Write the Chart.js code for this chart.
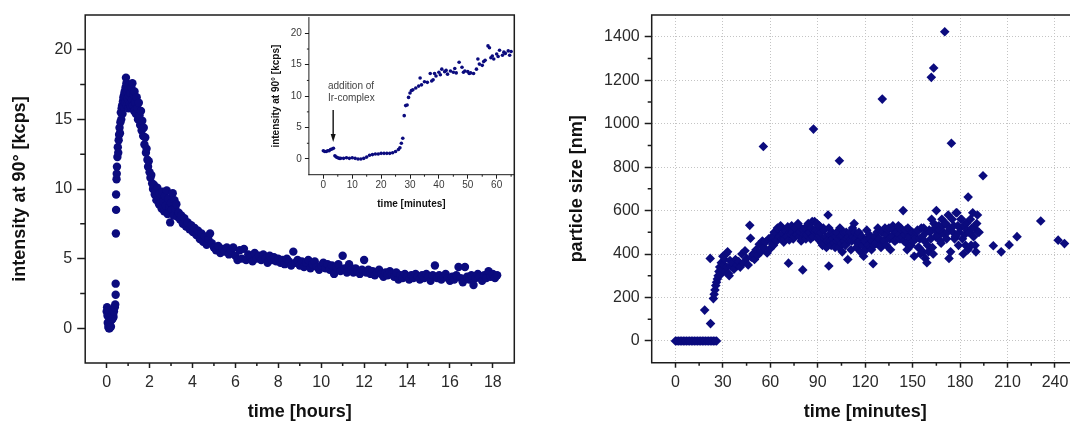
<!DOCTYPE html>
<html>
<head>
<meta charset="utf-8">
<script src="https://cdn.jsdelivr.net/npm/chart.js@4.4.1/dist/chart.umd.min.js"></script>
<style>
  html, body { margin: 0; padding: 0; background: #fff; }
  body { width: 1070px; height: 423px; overflow: hidden; position: relative; }
  canvas { position: absolute; top: 0; }
  #kinetics { left: 0; }
  #onset { left: 250px; }
  #sizes { left: 540px; }
</style>
</head>
<body>
<canvas id="kinetics" width="535" height="423"></canvas>
<canvas id="onset" width="268" height="215"></canvas>
<canvas id="sizes" width="560" height="423"></canvas>
<script>
/* scattered light at 90°, long run (hours) */
const hourTicks = [0, 2, 4, 6, 8, 10, 12, 14, 16, 18];
const hourMinor = [1, 3, 5, 7, 9, 11, 13, 15, 17];
const kcpsTicks = [0, 5, 10, 15, 20];
const kcpsMinor = [2.5, 7.5, 12.5, 17.5];

const hourlyIntensity = [
  [0.00,1.2],[0.02,1.5],[0.04,0.9],[0.05,0.4],[0.06,1.3],[0.08,0.1],[0.09,0.3],[0.10,0.0],[0.12,0.5],[0.14,0.0],
  [0.16,0.2],[0.18,0.8],[0.20,0.1],[0.22,0.9],[0.24,0.6],[0.26,1.1],[0.28,0.7],[0.30,1.0],[0.32,0.8],[0.34,1.2],
  [0.38,1.5],[0.40,1.7],[0.42,2.4],[0.42,3.2],[0.43,6.8],[0.44,8.5],[0.44,9.6],[0.46,10.7],[0.47,11.1],[0.48,11.6],
  [0.50,12.3],[0.52,13.0],[0.54,12.6],[0.56,13.5],[0.58,13.9],[0.60,14.4],[0.62,14.0],[0.64,14.8],[0.66,15.5],[0.68,15.0],
  [0.70,15.8],[0.72,16.0],[0.74,15.4],[0.76,16.3],[0.78,16.6],[0.80,15.9],[0.82,16.8],[0.84,17.0],[0.86,16.2],[0.88,17.3],
  [0.90,18.0],[0.92,17.6],[0.94,16.0],[0.96,17.0],[0.98,16.5],[1.00,17.2],[1.02,15.8],[1.04,16.7],[1.06,17.5],[1.08,16.1],
  [1.10,16.9],[1.12,15.9],[1.15,17.3],[1.18,16.4],[1.20,17.6],[1.22,16.0],[1.25,16.8],[1.28,15.6],[1.30,17.0],[1.33,16.2],
  [1.36,15.4],[1.40,16.6],[1.43,15.8],[1.46,15.0],[1.50,16.2],[1.53,15.3],[1.56,14.6],[1.60,15.6],[1.63,14.2],[1.66,14.9],
  [1.70,13.8],[1.73,14.4],[1.76,13.2],[1.80,13.7],[1.83,12.6],[1.86,12.9],[1.90,12.1],[1.93,11.6],[1.96,12.0],[2.00,11.2],
  [2.04,10.8],[2.08,11.0],[2.12,10.4],[2.16,10.0],[2.20,10.3],[2.24,9.6],[2.28,9.9],[2.32,9.2],[2.36,10.1],[2.40,9.4],
  [2.44,8.9],[2.48,9.7],[2.52,9.0],[2.56,8.6],[2.60,9.8],[2.64,9.1],[2.68,8.4],[2.72,9.5],[2.76,8.8],[2.80,9.9],
  [2.84,8.2],[2.88,9.3],[2.92,8.7],[2.96,7.6],[3.00,9.0],[3.04,8.5],[3.08,9.7],[3.12,8.1],[3.16,9.2],[3.20,8.6],
  [3.25,8.9],[3.30,8.0],[3.36,8.3],[3.42,7.8],[3.48,8.1],[3.55,7.5],[3.62,7.9],[3.70,7.3],[3.78,7.6],[3.86,7.1],
  [3.94,7.4],[4.02,6.9],[4.10,7.2],[4.18,6.7],[4.26,7.0],[4.34,6.4],[4.42,6.8],[4.50,6.2],[4.58,6.6],[4.66,6.0],
  [4.74,6.4],[4.82,6.8],[4.90,6.1],[5.00,5.8],[5.10,5.6],[5.20,5.9],[5.30,5.4],[5.40,5.7],[5.50,5.5],[5.60,5.8],
  [5.70,5.3],[5.80,5.6],[5.90,5.8],[6.00,5.2],[6.10,4.9],[6.20,5.6],[6.30,5.0],[6.40,5.7],[6.50,4.9],[6.60,5.3],
  [6.70,5.1],[6.80,4.8],[6.90,5.4],[7.00,5.0],[7.10,5.2],[7.20,4.9],[7.30,5.3],[7.40,5.0],[7.50,4.7],[7.60,5.2],
  [7.70,4.9],[7.80,5.1],[7.90,4.8],[8.00,5.0],[8.10,4.7],[8.20,4.9],[8.30,4.6],[8.40,5.0],[8.50,4.8],[8.60,4.5],
  [8.70,5.5],[8.80,4.7],[8.90,4.9],[9.00,4.5],[9.10,4.8],[9.20,4.4],[9.30,4.7],[9.40,4.9],[9.50,4.3],[9.60,4.6],
  [9.70,4.8],[9.80,4.4],[9.90,4.2],[10.0,4.5],[10.1,4.7],[10.2,4.3],[10.3,4.6],[10.4,4.2],[10.5,4.5],[10.6,3.9],
  [10.7,4.4],[10.8,4.6],[10.9,4.1],[11.0,5.2],[11.1,4.3],[11.2,4.0],[11.3,4.6],[11.4,4.2],[11.5,4.0],[11.6,4.3],
  [11.7,4.1],[11.8,3.9],[11.9,4.2],[12.0,4.9],[12.1,4.0],[12.2,4.2],[12.3,3.9],[12.4,4.1],[12.5,3.8],[12.6,4.0],
  [12.7,4.2],[12.8,3.9],[12.9,3.7],[13.0,4.0],[13.1,3.8],[13.2,4.1],[13.3,3.9],[13.4,3.7],[13.5,4.0],[13.6,3.5],
  [13.7,3.8],[13.8,3.6],[13.9,3.9],[14.0,3.7],[14.1,3.5],[14.2,3.8],[14.3,3.6],[14.4,3.9],[14.5,3.7],[14.6,3.5],
  [14.7,3.8],[14.8,3.6],[14.9,3.9],[15.0,3.7],[15.1,3.4],[15.2,3.8],[15.3,4.5],[15.4,3.6],[15.5,3.8],[15.6,3.5],
  [15.7,3.7],[15.8,3.9],[15.9,3.6],[16.0,3.4],[16.1,3.7],[16.2,3.5],[16.3,3.8],[16.4,4.4],[16.5,3.6],[16.6,3.3],
  [16.7,4.4],[16.8,3.7],[16.9,3.5],[17.0,3.8],[17.1,3.1],[17.2,3.6],[17.3,3.9],[17.4,3.7],[17.5,3.4],[17.6,3.8],
  [17.7,3.6],[17.8,4.1],[17.9,3.7],[18.0,3.9],[18.1,3.6],[18.2,3.8]
];

/* first hour in minutes (inset) */
const minuteTicks = [0, 10, 20, 30, 40, 50, 60];
const minuteMinor = [5, 15, 25, 35, 45, 55, 65];
const onsetIntensity = [
  [0,1.3],[0.5,1.2],[1,1.2],[1.5,1.3],[2,1.3],[2.5,1.5],[3,1.6],[3.5,1.7],[4,0.5],[4.5,0.3],
  [5,0.2],[5.5,0.1],[6,0.1],[7,0.1],[8,0.2],[9,0.1],[10,0.2],[11,0.1],[12,0.0],[13,0.0],
  [14,0.1],[15,0.3],[16,0.6],[17,0.7],[18,0.8],[19,0.8],[20,0.9],[21,0.9],[22,0.9],[23,0.9],
  [24,1.0],[25,1.2],[26,1.5],[26.5,1.8],[27,2.5],[27.5,3.3],[28,6.9],[28.5,8.5],[29,8.6],[29.5,9.8],
  [30,10.5],[30.5,10.9],[31,11.0],[32,11.3],[33,11.6],[33.5,12.9],[34,11.8],[35,12.3],[36,12.2],[37,13.6],
  [37.5,12.4],[38,12.6],[38.5,13.6],[39,13.2],[40,13.8],[40.5,13.4],[41,14.3],[42,13.9],[42.5,14.1],[43,13.5],
  [44,14.0],[45,13.8],[45.5,14.4],[46,13.7],[47,15.4],[48,14.6],[48.5,13.8],[49,14.0],[50,13.9],[50.5,13.6],
  [51,13.7],[52,13.6],[53,14.3],[53.5,15.9],[54,15.1],[55,14.9],[55.5,15.5],[56,15.7],[57,18.0],[57.5,17.7],
  [58,16.1],[58.5,16.4],[59,15.9],[60,16.7],[60.5,16.3],[61,17.3],[62,16.5],[62.5,17.0],[63,16.8],[64,17.2],
  [64.5,16.5],[65,17.1]
];
const noteMinute = 1.6;
const noteLines = [[11.6, 'addition of'], [9.7, 'Ir-complex']];
const arrowMinute = 3.4, arrowFrom = 7.8, arrowTo = 2.7;

/* particle size (nm) against time (minutes) */
const sizeTimeTicks = [0, 30, 60, 90, 120, 150, 180, 210, 240];
const sizeTimeMinor = [15, 45, 75, 105, 135, 165, 195, 225, 255];
const nmTicks = [0, 200, 400, 600, 800, 1000, 1200, 1400];
const nmMinor = [100, 300, 500, 700, 900, 1100, 1300];

const particleSize = [
  [0,0],[1,0],[2,0],[3,0],[4,0],[5,0],[6,0],[7,0],[8,0],[9,0],[10,0],[11,0],[12,0],[13,0],
  [14,0],[15,0],[16,0],[17,0],[18,0],[19,0],[20,0],[21,0],[22,0],[23,0],[24,0],[25,0],[26,0],
  [18.5,142],[22,380],[22.2,80],
  [24,195],[24.5,215],[25,235],[25.5,255],[26,270],[26.5,285],[27,300],[27.5,320],[28,340],[28.5,305],
  [29,360],[29.5,330],[30,390],[30.5,350],[31,375],[31.5,320],[32,400],[32.5,340],[33,410],[33.5,310],
  [34,300],[34.5,370],[35,345],[36,360],[37,330],[38,375],[39,350],[40,365],[41,340],[42,400],
  [43,360],[44,415],[45,380],[46,350],[47,532],[47.5,473],[48,385],[49,400],[50,375],[51,420],
  [52,395],[53,445],[54,410],[55,460],[55.6,895],[56,430],[57,455],[58,405],[59,470],
  [60,425],[60.5,470],[61,480],[61.5,445],[62,440],[62.5,500],[63,500],[63.5,465],[64,460],[64.5,520],
  [65,515],[65.5,480],[66,480],[66.5,530],[67,520],[67.5,470],[68,495],[68.5,455],[69,470],[69.5,510],
  [70,505],[70.5,480],[71,525],[71.5,358],[72,465],[72.5,500],[73,490],[73.5,530],[74,500],[74.5,470],
  [75,480],[75.5,520],[76,520],[76.5,490],[77,490],[77.5,540],[78,530],[78.5,480],[79,500],[79.5,460],
  [80,470],[80.5,327],[81,510],[81.5,490],[82,520],[82.5,470],[83,490],[83.5,530],[84,540],[84.5,500],
  [85,500],[85.5,470],[86,520],[86.5,550],[87,480],[87.3,975],[87.5,510],[88,550],[88.5,500],[89,510],
  [89.5,540],[90,470],[90.5,500],[91,530],[91.5,480],[92,500],[92.5,450],[93,440],[93.5,520],[94,510],
  [94.5,470],[95,480],[95.5,430],[96,460],[96.5,580],[97,520],[97,345],[97.5,490],[98,460],[98.5,440],
  [99,500],[99.5,470],
  [100,490],[100.5,450],[101,430],[101.5,480],[102,500],[102.5,460],[103,470],[103.5,430],[103.7,829],[104,520],
  [104.5,480],[105,450],[105.5,410],[106,480],[106.5,500],[107,460],[107.5,440],[108,500],[108.5,470],[109,375],
  [109.5,480],[110,460],[110.5,500],[111,420],[111.5,460],[112,520],[112.5,480],[113,540],[113.5,500],[114,470],
  [114.5,430],[115,450],[115.5,490],[116,500],[116.5,460],[117,410],[117.5,480],[118,480],[118.5,440],[119,390],
  [119.5,460],[120,460],[120.5,420],[121,510],[121.5,470],[122,440],[122.5,490],[123,470],[123.5,430],[124,420],
  [124.5,460],[125,355],[125.5,440],[126,480],[126.5,450],[127,450],[127.5,500],[128,520],[128.5,470],[129,470],
  [129.5,440],[130,430],[130.5,500],[130.8,1113],[131,500],[131.5,460],[132,460],[132.5,520],[133,490],[133.5,440],
  [134,490],[134.5,510],[135,520],[135.5,470],[136,420],[136.5,480],[137,480],[137.5,530],[138,510],[138.5,460],
  [139,460],[139.5,500],[140,500],[140.5,470],[141,530],[141.5,490],[142,470],[142.5,520],[143,510],[143.5,480],
  [144,600],[144.5,460],[145,490],[145.5,510],[146,450],[146.5,420],[147,520],[147.5,480],[148,480],[148.5,440],
  [149,440],[149.5,500],[150,500],[150.5,460],[151,390],[151.5,480],[152,470],[152.5,500],[153,510],[153.5,430],
  [154,430],[154.5,470],[155,400],[155.5,520],[156,480],[156.5,410],[157,520],[157.5,460],[158,380],[158.5,500],
  [159,360],[159.5,440],
  [160,410],[160.5,510],[161,500],[161.5,470],[161.8,1213],[162,560],[162.5,430],[163,400],[163.3,1256],[163.5,540],
  [164,520],[164.5,480],[165,600],[165.5,500],[166,480],[166.5,530],[167,510],[167.5,460],[168,450],[168.5,560],
  [169,530],[169.5,500],[170,490],[170.3,1423],[170.5,540],[171,540],[171.5,470],[172,500],[172.5,580],[173,380],
  [173.5,520],[174,410],[174.5,910],[175,560],[175.5,500],[176,530],[176.5,470],[177,480],[177.5,590],[178,590],
  [178.5,530],[179,440],[179.5,500],[180,520],[180.5,560],[181,560],[181.5,470],[182,400],[182.5,530],[183,490],
  [183.5,440],[184,540],[184.5,510],[185,420],[185.1,662],[185.5,500],[186,500],[186.5,560],[187,440],[187.5,520],
  [188,590],[188.5,480],[189,520],[189.5,440],[190,410],[190.5,540],[191,580],[191.5,500],[192,500],
  [194.5,760],[201,438],[206,410],[211,442],[216,480],[231,552],[242,464],[246,448]
];

const NAVY = '#0b0b7e';
const INK = '#1c1c1c';
const FONT = '"Liberation Sans", Arial, sans-serif';

// short minor ticks and the box lines round the plot area
const axisFrame = {
  id: 'axisFrame',
  afterDraw(chart, args, o) {
    const {ctx, chartArea: a} = chart;
    const sx = chart.scales.x, sy = chart.scales.y;
    ctx.save();
    ctx.strokeStyle = INK;
    ctx.lineWidth = o.lineWidth;
    ctx.beginPath();
    o.minorX.forEach(v => {
      const p = sx.getPixelForValue(v);
      if (p < a.left || p > a.right) return;
      ctx.moveTo(p, a.bottom);
      ctx.lineTo(p, a.bottom + o.minorLenX);
    });
    o.minorY.forEach(v => {
      const p = sy.getPixelForValue(v);
      ctx.moveTo(a.left, p);
      ctx.lineTo(a.left - o.minorLenY, p);
    });
    ctx.stroke();
    ctx.lineCap = 'square';
    ctx.beginPath();
    if (o.sides.includes('l')) { ctx.moveTo(a.left, a.top); ctx.lineTo(a.left, a.bottom); }
    if (o.sides.includes('b')) { ctx.moveTo(a.left, a.bottom); ctx.lineTo(a.right, a.bottom); }
    if (o.sides.includes('t')) { ctx.moveTo(a.left, a.top); ctx.lineTo(a.right, a.top); }
    if (o.sides.includes('r')) { ctx.moveTo(a.right, a.top); ctx.lineTo(a.right, a.bottom); }
    ctx.stroke();
    ctx.restore();
  }
};

// label and arrow marking when the complex went in
const additionNote = {
  id: 'additionNote',
  afterDraw(chart) {
    const {ctx, scales: {x, y}} = chart;
    ctx.save();
    ctx.font = '10px ' + FONT;
    ctx.fillStyle = '#444';
    ctx.textBaseline = 'middle';
    noteLines.forEach(([v, txt]) => ctx.fillText(txt, x.getPixelForValue(noteMinute), y.getPixelForValue(v)));
    const ax = x.getPixelForValue(arrowMinute);
    const y1 = y.getPixelForValue(arrowFrom), y2 = y.getPixelForValue(arrowTo);
    ctx.strokeStyle = '#111';
    ctx.lineWidth = 1.4;
    ctx.beginPath(); ctx.moveTo(ax, y1); ctx.lineTo(ax, y2 - 6); ctx.stroke();
    ctx.fillStyle = '#111';
    ctx.beginPath(); ctx.moveTo(ax - 2.5, y2 - 8); ctx.lineTo(ax + 2.5, y2 - 8); ctx.lineTo(ax, y2); ctx.closePath(); ctx.fill();
    ctx.restore();
  }
};

function linearAxis(s) {
  return {
    type: 'linear',
    min: s.min,
    max: s.max,
    afterBuildTicks: sc => { sc.ticks = s.ticks.map(v => ({value: v})); },
    afterFit: sc => { if (s.width) sc.width = s.width; if (s.height) sc.height = s.height; },
    grid: {
      drawOnChartArea: !!s.grid,
      color: '#c4c4c4',
      lineWidth: 1,
      drawTicks: true,
      tickLength: s.tickLength,
      tickColor: INK,
      tickWidth: s.tickWidth || 1.5,
      tickBorderDash: []
    },
    border: { display: false, dash: s.grid ? [1, 2] : [] },
    ticks: {
      autoSkip: false,
      maxRotation: 0,
      padding: s.pad,
      color: s.tickColor || '#2a2a2a',
      font: { family: FONT, size: s.tickSize },
      callback: v => String(v)
    },
    title: {
      display: true,
      text: s.title,
      color: '#111',
      font: { family: FONT, size: s.titleSize, weight: 'bold' },
      padding: s.titlePad
    }
  };
}

function scatterChart(id, points, radius, style, padding, xs, ys, frame, extra) {
  return new Chart(document.getElementById(id), {
    type: 'scatter',
    data: {
      datasets: [{
        data: points.map(([x, y]) => ({x, y})),
        pointStyle: style,
        pointRadius: radius,
        pointBorderWidth: 0,
        backgroundColor: NAVY,
        borderColor: NAVY
      }]
    },
    options: {
      responsive: false,
      animation: false,
      events: [],
      layout: { padding },
      scales: { x: linearAxis(xs), y: linearAxis(ys) },
      plugins: { legend: { display: false }, tooltip: { enabled: false }, axisFrame: frame }
    },
    plugins: [axisFrame].concat(extra || [])
  });
}

scatterChart('kinetics', hourlyIntensity, 4.2, 'circle',
  { left: 0, top: 15, right: 20.7, bottom: 0 },
  { min: -1, max: 19, ticks: hourTicks, height: 60, tickLength: 5, pad: 5, tickSize: 16,
    title: 'time [hours]', titleSize: 18, titlePad: { top: 0, bottom: 0 } },
  { min: -2.5, max: 22.5, ticks: kcpsTicks, width: 85.2, tickLength: 8, pad: 5, tickSize: 16,
    title: 'intensity at 90° [kcps]', titleSize: 18, titlePad: { top: 9, bottom: 0 } },
  { minorX: hourMinor, minorY: kcpsMinor, minorLenX: 3, minorLenY: 5, lineWidth: 1.5, sides: 'lbtr' });

scatterChart('onset', onsetIntensity, 1.8, 'circle',
  { left: 0, top: 17.6, right: 4, bottom: 0 },
  { min: -5, max: 66, ticks: minuteTicks, height: 40.3, tickLength: 4, pad: 1, tickSize: 10, tickWidth: 1,
    tickColor: '#3a3a3a', title: 'time [minutes]', titleSize: 10, titlePad: { top: 0, bottom: 5 } },
  { min: -2.5, max: 22.5, ticks: kcpsTicks, width: 58.9, tickLength: 4, pad: 3, tickSize: 10, tickWidth: 1,
    tickColor: '#3a3a3a', title: 'intensity at 90° [kcps]', titleSize: 10, titlePad: { top: 20, bottom: 0 } },
  { minorX: minuteMinor, minorY: kcpsMinor, minorLenX: 2, minorLenY: 2, lineWidth: 1, sides: 'lb' },
  [additionNote]);

scatterChart('sizes', particleSize, 4.8, 'rectRot',
  { left: 0, top: 15, right: 21.3, bottom: 0 },
  { min: -15, max: 255, ticks: sizeTimeTicks, height: 60.3, tickLength: 5, pad: 5, tickSize: 16, grid: true,
    title: 'time [minutes]', titleSize: 18, titlePad: { top: 0, bottom: 0 } },
  { min: -100, max: 1500, ticks: nmTicks, width: 111.7, tickLength: 7, pad: 5, tickSize: 16, grid: true,
    title: 'particle size [nm]', titleSize: 18, titlePad: { top: 26, bottom: 0 } },
  { minorX: sizeTimeMinor, minorY: nmMinor, minorLenX: 3, minorLenY: 4, lineWidth: 1.5, sides: 'lbtr' });
</script>
</body>
</html>
